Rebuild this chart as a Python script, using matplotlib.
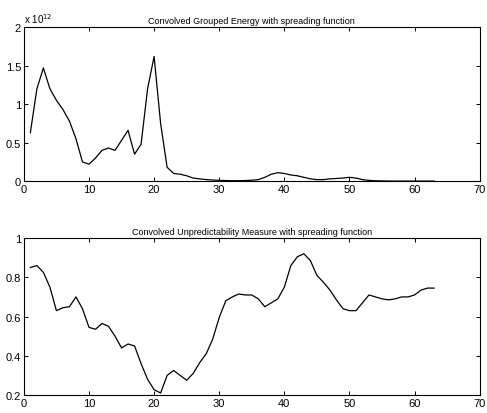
import matplotlib
matplotlib.use("Agg")
import matplotlib.pyplot as plt
from matplotlib.ticker import MultipleLocator, FuncFormatter

plt.rcParams['font.family'] = ['Liberation Sans', 'DejaVu Sans']

x_energy = list(range(1, 64))
energy = [0.63, 1.2, 1.47, 1.2, 1.05, 0.93, 0.78, 0.55, 0.25, 0.22,
          0.3, 0.4, 0.43, 0.4, 0.53, 0.66, 0.35, 0.48, 1.2, 1.62,
          0.75, 0.18, 0.1, 0.09, 0.07, 0.04, 0.03, 0.02, 0.015, 0.01,
          0.008, 0.006, 0.006, 0.008, 0.012, 0.02, 0.05, 0.09, 0.11, 0.1,
          0.08, 0.07, 0.05, 0.03, 0.02, 0.02, 0.03, 0.035, 0.04, 0.05,
          0.04, 0.02, 0.01, 0.005, 0.003, 0.002, 0.001, 0.001, 0.001, 0.001,
          0.001, 0.001, 0.001]
energy_scale = 1e12

x_unpred = list(range(1, 64))
unpred = [0.85, 0.86, 0.825, 0.75, 0.63, 0.645, 0.65, 0.70, 0.64, 0.545,
          0.535, 0.565, 0.55, 0.50, 0.44, 0.46, 0.45, 0.36, 0.28, 0.227,
          0.21, 0.30, 0.325, 0.30, 0.275, 0.31, 0.365, 0.41, 0.485, 0.595,
          0.68, 0.70, 0.715, 0.71, 0.71, 0.69, 0.65, 0.67, 0.69, 0.75,
          0.86, 0.905, 0.92, 0.885, 0.81, 0.775, 0.735, 0.685, 0.64, 0.63,
          0.63, 0.67, 0.71, 0.70, 0.69, 0.685, 0.69, 0.70, 0.70, 0.71,
          0.735, 0.745, 0.745]

title_top = "Convolved Grouped Energy with spreading function"
title_bot = "Convolved Unpredictability Measure with spreading function"
scale_label = "x 10$^{12}$"


def matlab_fmt(v, scale=1.0):
    s = "%g" % round(v / scale, 6)
    return s


fig = plt.figure(figsize=(4.87, 4.14), dpi=100)
ax1 = fig.add_axes([0.049, 0.560, 0.936, 0.372])
ax2 = fig.add_axes([0.049, 0.0435, 0.936, 0.379])

ax1.plot(x_energy, [v * energy_scale for v in energy], color='black', lw=0.9)
ax1.set_xlim(0, 70)
ax1.set_ylim(0, 2 * energy_scale)
ax1.yaxis.set_major_locator(MultipleLocator(0.5 * energy_scale))
ax1.yaxis.set_major_formatter(FuncFormatter(lambda v, p: matlab_fmt(v, energy_scale)))
ax1.set_title(title_top, fontsize=6.5, pad=3)
ax1.text(0.0, 1.015, scale_label, transform=ax1.transAxes, fontsize=7,
         ha='left', va='bottom')

ax2.plot(x_unpred, unpred, color='black', lw=0.9)
ax2.set_xlim(0, 70)
ax2.set_ylim(0.2, 1.0)
ax2.yaxis.set_major_locator(MultipleLocator(0.2))
ax2.yaxis.set_major_formatter(FuncFormatter(lambda v, p: matlab_fmt(v)))
ax2.set_title(title_bot, fontsize=6.5, pad=3)

for ax in (ax1, ax2):
    ax.xaxis.set_major_locator(MultipleLocator(10))
    ax.xaxis.set_major_formatter(FuncFormatter(lambda v, p: matlab_fmt(v)))
    ax.tick_params(direction='in', top=True, right=True, labelsize=8,
                   length=3, width=0.7, pad=2)
    for s in ax.spines.values():
        s.set_linewidth(0.8)

fig.savefig("out.png", dpi=100)
